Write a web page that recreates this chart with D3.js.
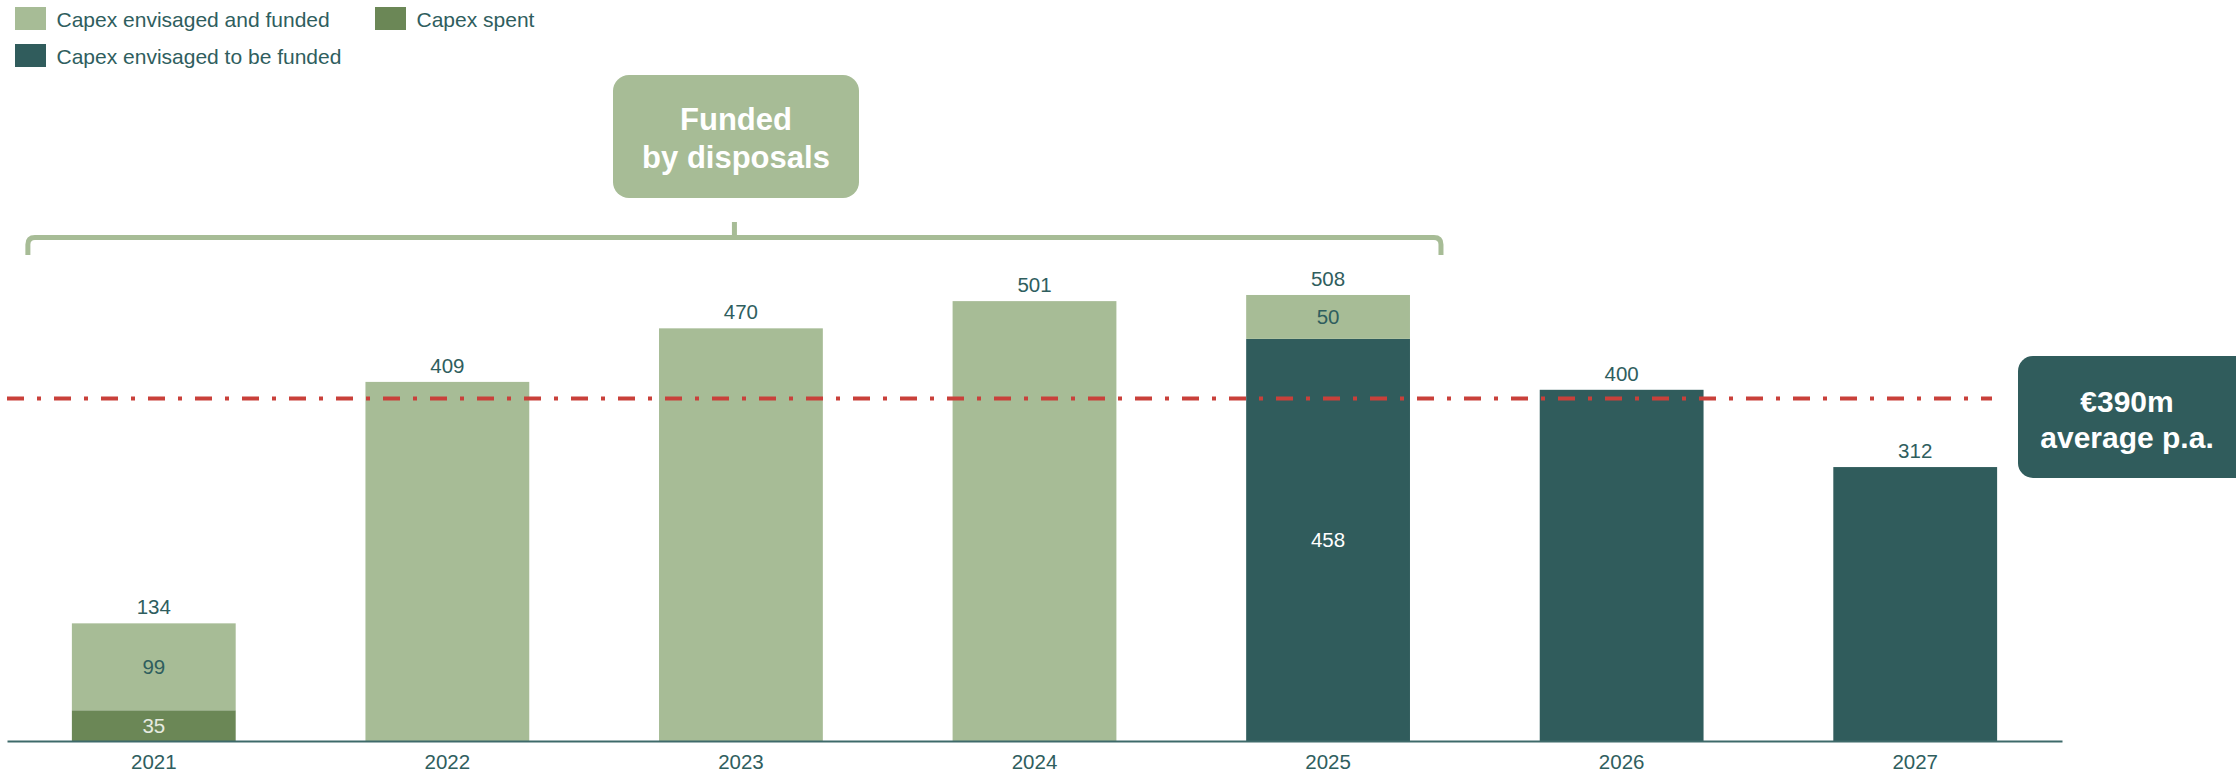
<!DOCTYPE html>
<html>
<head>
<meta charset="utf-8">
<script src="https://cdn.jsdelivr.net/npm/d3@7"></script>
<style>
  html, body { margin: 0; padding: 0; background: #fff; }
  svg { display: block; font-family: "Liberation Sans", Arial, sans-serif; }
</style>
</head>
<body>
<svg id="chart" width="2236" height="773"></svg>
<script>
// Capex profile by year (€m)
const years = ["2021", "2022", "2023", "2024", "2025", "2026", "2027"];
const capexSpent = [35, 0, 0, 0, 0, 0, 0];
const capexToBeFunded = [0, 0, 0, 0, 458, 400, 312];
const capexFunded = [99, 409, 470, 501, 50, 0, 0];
const averageValue = 390;
const averageLabel = ["€390m", "average p.a."];
const calloutLabel = ["Funded", "by disposals"];
const fundedByDisposalsYears = ["2021", "2025"];

const seriesKeys = ["spent", "toBeFunded", "funded"];
const seriesNames = {
  funded: "Capex envisaged and funded",
  spent: "Capex spent",
  toBeFunded: "Capex envisaged to be funded"
};
const colors = { funded: "#A7BC96", spent: "#6B8756", toBeFunded: "#305C5C" };
const labelColors = { funded: "#2F5E5E", spent: "#E6EBE1", toBeFunded: "#FFFFFF" };
const textColor = "#2F5E5E";

const rows = years.map((y, i) => ({
  year: y,
  spent: capexSpent[i],
  toBeFunded: capexToBeFunded[i],
  funded: capexFunded[i]
}));
rows.forEach(r => { r.total = seriesKeys.reduce((s, k) => s + r[k], 0); });

const svg = d3.select("#chart");
const baseY = 741;

const x = d3.scaleBand()
  .domain(years)
  .range([7, 2062])
  .paddingInner(0.442)
  .paddingOuter(0.221);

const y = d3.scaleLinear()
  .domain([0, 600])
  .range([baseY, baseY - 0.878 * 600]);

const stacked = d3.stack().keys(seriesKeys)(rows);

// bars
const layers = svg.append("g").selectAll("g")
  .data(stacked)
  .join("g")
  .attr("fill", d => colors[d.key]);

layers.selectAll("rect")
  .data(d => d.map(p => Object.assign(p, { key: d.key })))
  .join("rect")
  .filter(d => d[1] - d[0] > 0)
  .attr("x", d => x(d.data.year))
  .attr("width", x.bandwidth())
  .attr("y", d => y(d[1]))
  .attr("height", d => y(d[0]) - y(d[1]));

// segment labels for bars made of more than one part
stacked.forEach(layer => {
  layer.forEach(p => {
    const v = p[1] - p[0];
    const parts = seriesKeys.filter(k => p.data[k] > 0).length;
    if (v > 0 && parts > 1) {
      svg.append("text")
        .attr("x", x(p.data.year) + x.bandwidth() / 2)
        .attr("y", (y(p[0]) + y(p[1])) / 2)
        .attr("dy", "0.36em")
        .attr("text-anchor", "middle")
        .attr("font-size", 20.5)
        .attr("fill", labelColors[layer.key])
        .text(v);
    }
  });
});

// totals above bars
svg.append("g").selectAll("text")
  .data(rows)
  .join("text")
  .attr("x", d => x(d.year) + x.bandwidth() / 2)
  .attr("y", d => y(d.total) - 9)
  .attr("text-anchor", "middle")
  .attr("font-size", 20.5)
  .attr("fill", textColor)
  .text(d => d.total);

// x axis
const xAxis = svg.append("g")
  .attr("transform", `translate(0,${baseY})`)
  .call(d3.axisBottom(x).tickSize(0).tickPadding(0));
xAxis.select(".domain").attr("stroke", "#3E6A6A").attr("stroke-width", 2);
xAxis.selectAll("text")
  .attr("font-size", 20.5)
  .attr("fill", textColor)
  .attr("font-family", "Liberation Sans, Arial, sans-serif")
  .attr("dy", null)
  .attr("y", 28);

// average line
svg.append("line")
  .attr("x1", 7)
  .attr("x2", 1992)
  .attr("y1", y(averageValue))
  .attr("y2", y(averageValue))
  .attr("stroke", "#C9403A")
  .attr("stroke-width", 4)
  .attr("stroke-dasharray", "17 13 4 13");

// average badge
const badge = svg.append("g");
badge.append("rect")
  .attr("x", 2018).attr("y", 356)
  .attr("width", 232).attr("height", 122)
  .attr("rx", 15)
  .attr("fill", "#305C5C");
badge.selectAll("text")
  .data(averageLabel)
  .join("text")
  .attr("x", 2127)
  .attr("y", (d, i) => 412 + i * 36)
  .attr("text-anchor", "middle")
  .attr("font-size", 30)
  .attr("font-weight", "bold")
  .attr("fill", "#fff")
  .text(d => d);

// bracket over bars funded by disposals
const bx0 = x(fundedByDisposalsYears[0]) - 44;
const bx1 = x(fundedByDisposalsYears[1]) + x.bandwidth() + 31;
const by = 237.5, bBottom = 255, r = 7;
const bMid = (bx0 + bx1) / 2;
svg.append("path")
  .attr("d", `M${bx0},${bBottom} V${by + r} Q${bx0},${by} ${bx0 + r},${by} H${bx1 - r} Q${bx1},${by} ${bx1},${by + r} V${bBottom}`)
  .attr("fill", "none")
  .attr("stroke", "#A7BC96")
  .attr("stroke-width", 5);
svg.append("path")
  .attr("d", `M${bMid},${by} V${222}`)
  .attr("fill", "none")
  .attr("stroke", "#A7BC96")
  .attr("stroke-width", 5);

// callout
const callout = svg.append("g");
callout.append("rect")
  .attr("x", 613).attr("y", 75)
  .attr("width", 246).attr("height", 123)
  .attr("rx", 16)
  .attr("fill", "#A7BC96");
callout.selectAll("text")
  .data(calloutLabel)
  .join("text")
  .attr("x", 736)
  .attr("y", (d, i) => 130 + i * 38)
  .attr("text-anchor", "middle")
  .attr("font-size", 31)
  .attr("font-weight", "bold")
  .attr("fill", "#fff")
  .text(d => d);

// legend
const legendItems = [
  { key: "funded", x: 15, y: 7 },
  { key: "spent", x: 375, y: 7 },
  { key: "toBeFunded", x: 15, y: 44 }
];
const legend = svg.append("g").selectAll("g")
  .data(legendItems)
  .join("g")
  .attr("transform", d => `translate(${d.x},${d.y})`);
legend.append("rect")
  .attr("width", 31).attr("height", 23)
  .attr("fill", d => colors[d.key]);
legend.append("text")
  .attr("x", 41.5)
  .attr("y", 19.5)
  .attr("font-size", 21)
  .attr("fill", textColor)
  .text(d => seriesNames[d.key]);
</script>
</body>
</html>
